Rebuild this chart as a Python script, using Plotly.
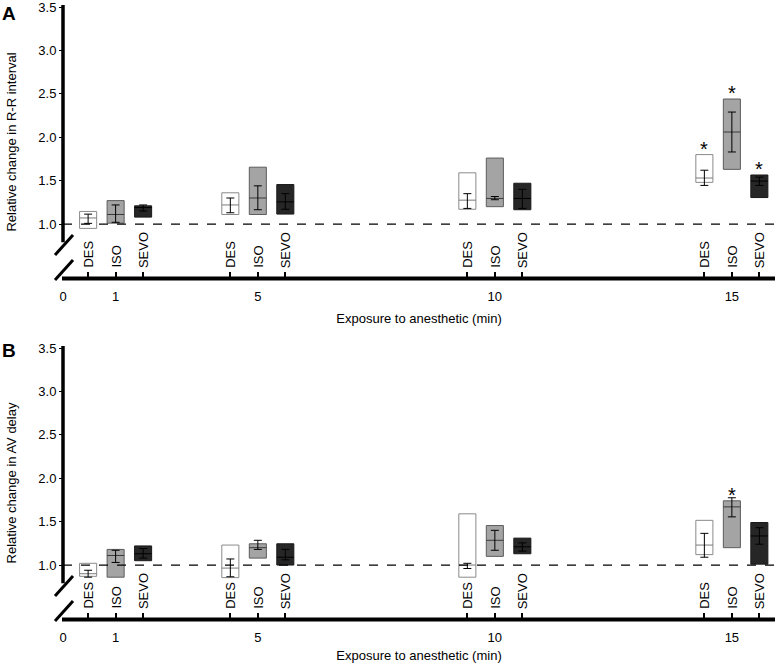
import plotly.graph_objects as go

# ---------------- DATA ----------------
times = ["1", "5", "10", "15"]
agents = ["DES", "ISO", "SEVO"]
axis_zero_label = "0"

# Panel A: relative change in R-R interval
rr_box_low = {"DES": [0.95, 1.11, 1.17, 1.48], "ISO": [1.01, 1.11, 1.20, 1.63], "SEVO": [1.08, 1.115, 1.165, 1.305]}
rr_box_high = {"DES": [1.145, 1.36, 1.59, 1.80], "ISO": [1.27, 1.655, 1.76, 2.44], "SEVO": [1.21, 1.455, 1.47, 1.565]}
rr_median = {"DES": [1.07, 1.22, 1.275, 1.53], "ISO": [1.11, 1.30, 1.295, 2.06], "SEVO": [1.19, 1.255, 1.295, 1.495]}
rr_mean = {"DES": [1.06, 1.22, 1.265, 1.53], "ISO": [1.12, 1.30, 1.297, 2.06], "SEVO": [1.185, 1.26, 1.29, 1.49]}
rr_err_low = {"DES": [1.008, 1.13, 1.18, 1.445], "ISO": [1.02, 1.165, 1.28, 1.83], "SEVO": [1.15, 1.17, 1.18, 1.445]}
rr_err_high = {"DES": [1.114, 1.30, 1.35, 1.62], "ISO": [1.22, 1.44, 1.317, 2.29], "SEVO": [1.22, 1.35, 1.40, 1.54]}
rr_signif = {"DES": [False, False, False, True], "ISO": [False, False, False, True], "SEVO": [False, False, False, True]}

# Panel B: relative change in AV delay
av_box_low = {"DES": [0.87, 0.855, 0.86, 1.12], "ISO": [0.86, 1.08, 1.10, 1.20], "SEVO": [1.05, 1.0, 1.13, 1.01]}
av_box_high = {"DES": [1.02, 1.23, 1.59, 1.515], "ISO": [1.18, 1.245, 1.455, 1.74], "SEVO": [1.22, 1.245, 1.31, 1.49]}
av_median = {"DES": [0.90, 0.965, 1.0, 1.23], "ISO": [1.11, 1.20, 1.285, 1.67], "SEVO": [1.13, 1.09, 1.21, 1.335]}
av_mean = {"DES": [0.90, 0.97, 0.99, 1.23], "ISO": [1.10, 1.23, 1.285, 1.67], "SEVO": [1.13, 1.12, 1.21, 1.33]}
av_err_low = {"DES": [0.86, 0.865, 0.96, 1.09], "ISO": [1.03, 1.18, 1.17, 1.555], "SEVO": [1.08, 1.06, 1.16, 1.24]}
av_err_high = {"DES": [0.94, 1.07, 1.02, 1.365], "ISO": [1.17, 1.285, 1.40, 1.775], "SEVO": [1.19, 1.18, 1.255, 1.43]}
av_signif = {"DES": [False, False, False, False], "ISO": [False, False, False, True], "SEVO": [False, False, False, False]}

y_tick_values = [1.0, 1.5, 2.0, 2.5, 3.0, 3.5]
reference_level = 1.0

# ---------------- LAYOUT / STYLE ----------------
W, H = 777, 663
FONT = "Liberation Sans, Arial, Helvetica, sans-serif"
group_pos = [2.0, 5.0, 10.0, 15.0]          # visual slot of each exposure time
agent_offset = {"DES": -0.58, "ISO": 0.0, "SEVO": 0.58}
box_w = 0.36
x_range = [0.89, 15.91]
y_range = [0.39, 3.5]
y_axis_bottom = 0.79

fills = {"DES": "#ffffff", "ISO": "#a4a4a4", "SEVO": "#262626"}
edges = {"DES": "#8a8a8a", "ISO": "#5c5c5c", "SEVO": "#1a1a1a"}
median_col = {"DES": "#7a7a7a", "ISO": "#3a3a3a", "SEVO": "#000000"}

x_dom = [63 / W, 775 / W]
panels = [
    dict(xa="x", ya="y", dom=[1 - 277 / H, 1 - 7 / H], label="A", ltop=1,
         ytitle="Relative change in R-R interval",
         low=rr_box_low, high=rr_box_high, med=rr_median, mean=rr_mean,
         elo=rr_err_low, ehi=rr_err_high, sig=rr_signif),
    dict(xa="x2", ya="y2", dom=[1 - 618 / H, 1 - 348 / H], label="B", ltop=338,
         ytitle="Relative change in AV delay",
         low=av_box_low, high=av_box_high, med=av_median, mean=av_mean,
         elo=av_err_low, ehi=av_err_high, sig=av_signif),
]

fig = go.Figure()
shapes = []
annotations = []

for p in panels:
    for ag in agents:
        xs = [g + agent_offset[ag] for g in group_pos]
        lo, hi = p["low"][ag], p["high"][ag]
        fig.add_trace(go.Bar(
            x=xs, y=[h - l for h, l in zip(hi, lo)], base=lo, width=box_w,
            marker=dict(color=fills[ag], line=dict(color=edges[ag], width=1)),
            xaxis=p["xa"], yaxis=p["ya"], showlegend=False, name=ag,
        ))
        # median line
        mx, my = [], []
        for x, m in zip(xs, p["med"][ag]):
            mx += [x - box_w / 2, x + box_w / 2, None]
            my += [m, m, None]
        fig.add_trace(go.Scatter(
            x=mx, y=my, mode="lines", line=dict(color=median_col[ag], width=1),
            xaxis=p["xa"], yaxis=p["ya"], showlegend=False, hoverinfo="skip",
        ))
        # mean +/- error
        mean = p["mean"][ag]
        fig.add_trace(go.Scatter(
            x=xs, y=mean, mode="markers",
            marker=dict(size=1, color="rgba(0,0,0,0)"),
            error_y=dict(type="data", symmetric=False,
                         array=[h - m for h, m in zip(p["ehi"][ag], mean)],
                         arrayminus=[m - l for m, l in zip(mean, p["elo"][ag])],
                         thickness=1, width=4, color="black"),
            xaxis=p["xa"], yaxis=p["ya"], showlegend=False,
        ))
        # significance asterisks
        for x, h, s in zip(xs, hi, p["sig"][ag]):
            if s:
                annotations.append(dict(
                    x=x, xref=p["xa"], y=h, yref=p["ya"], text="*",
                    showarrow=False, xanchor="center", yanchor="bottom", yshift=-7,
                    font=dict(family=FONT, size=20, color="black")))

    xref_dom = p["xa"] + " domain"
    yref_dom = p["ya"] + " domain"
    yspan = y_range[1] - y_range[0]
    ypx = (p["dom"][1] - p["dom"][0]) * H
    # reference dashed line
    shapes.append(dict(type="line", xref=xref_dom, x0=0, x1=1, yref=p["ya"],
                       y0=reference_level, y1=reference_level,
                       line=dict(color="black", width=1.2, dash="dash")))
    # y-axis line (broken)
    shapes.append(dict(type="line", xref=xref_dom, x0=0, x1=0, yref=yref_dom,
                       y0=(y_axis_bottom - y_range[0]) / yspan, y1=1.0 + 2 / ypx,
                       line=dict(color="black", width=3.5)))
    # x-axis line
    shapes.append(dict(type="line", xref=xref_dom, x0=-1 / 712, x1=1, yref=yref_dom,
                       y0=-1.5 / ypx, y1=-1.5 / ypx,
                       line=dict(color="black", width=4)))
    # break slashes
    for dy in (0.0, 25.0):
        shapes.append(dict(type="line", xref=xref_dom, yref=yref_dom,
                           x0=-8 / 712, x1=10 / 712,
                           y0=(22 - dy) / ypx, y1=(42 - dy) / ypx,
                           line=dict(color="black", width=3)))
    # DES/ISO/SEVO labels above the x axis
    for ag in agents:
        for g in group_pos:
            annotations.append(dict(
                x=g + agent_offset[ag], xref=p["xa"], y=0, yref=yref_dom,
                text=ag, textangle=-90, showarrow=False, xanchor="center",
                yanchor="bottom", yshift=7,
                font=dict(family=FONT, size=13, color="black")))
    # panel letter
    annotations.append(dict(x=0.0, xref="paper", y=1 - p["ltop"] / H, yref="paper",
                            text="<b>" + p["label"] + "</b>", showarrow=False,
                            xanchor="left", yanchor="top",
                            font=dict(family=FONT, size=19, color="black")))

axis_common = dict(showgrid=False, zeroline=False, showline=False)
tickfont = dict(family=FONT, size=13, color="black")
x_ticks = [x_range[0] + 1e-6] + group_pos
x_ticktext = [axis_zero_label] + times
minor_vals = [g + agent_offset[a] for g in group_pos for a in agents]

layout = dict(
    width=W, height=H, margin=dict(l=0, r=0, t=0, b=0),
    paper_bgcolor="white", plot_bgcolor="white", barmode="overlay",
    font=dict(family=FONT, color="black"),
    shapes=shapes, annotations=annotations,
)
for i, p in enumerate(panels):
    sfx = "" if i == 0 else "2"
    layout["xaxis" + sfx] = dict(
        axis_common, domain=x_dom, range=x_range, anchor=p["ya"],
        tickmode="array", tickvals=x_ticks, ticktext=x_ticktext, ticks="",
        tickfont=tickfont, ticklabelstandoff=10, ticklabeloverflow="allow",
        minor=dict(tickmode="array", tickvals=minor_vals, ticks="inside",
                   ticklen=5, tickwidth=1.5, tickcolor="black"),
        title=dict(text="Exposure to anesthetic (min)", font=dict(family=FONT, size=13),
                   standoff=10),
        automargin=False,
    )
    layout["yaxis" + sfx] = dict(
        axis_common, domain=p["dom"], range=y_range, anchor=p["xa"],
        tickmode="array", tickvals=y_tick_values, tickformat=".1f",
        ticks="outside", ticklen=3, tickwidth=1, tickcolor="black",
        tickfont=tickfont, ticklabeloverflow="allow",
        title=dict(text=p["ytitle"], font=dict(family=FONT, size=13), standoff=18),
        automargin=False,
    )

fig.update_layout(**layout)
fig.write_html(
    "out.html",
    config={"displayModeBar": False},
    post_script="document.body.style.margin='0';document.body.style.overflow='hidden';",
)
